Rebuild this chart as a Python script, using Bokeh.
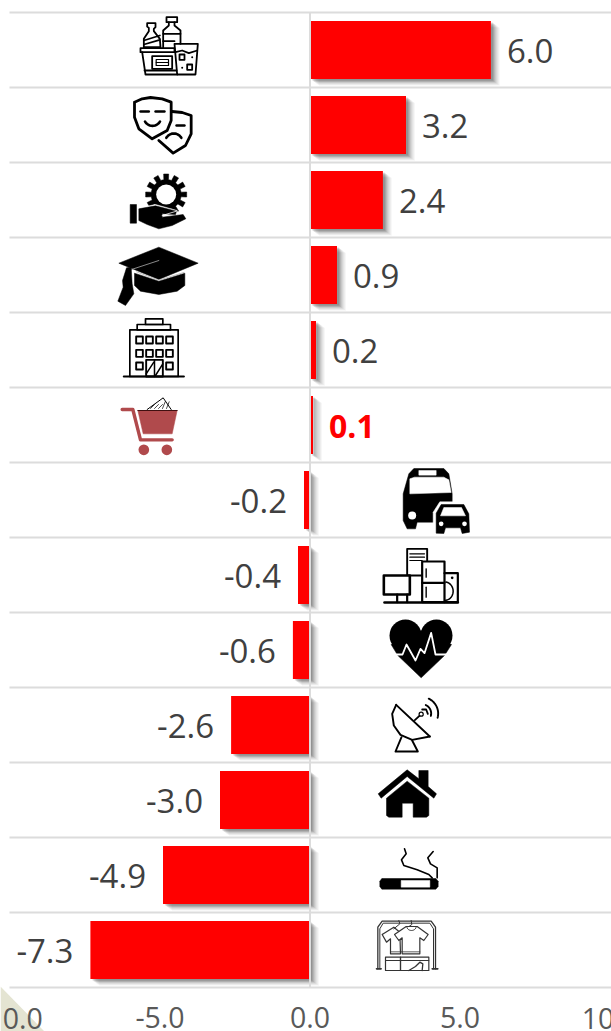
import math
from bokeh.plotting import figure
from bokeh.embed import file_html
from bokeh.resources import INLINE
from bokeh.models import Range1d, FixedTicker, NumeralTickFormatter
from bokeh.core.properties import value

# ---- data ----
categories = ["Food and beverages", "Recreation and culture", "Services", "Education", "Hotels",
              "Miscellaneous goods", "Transport", "Household appliances", "Health",
              "Communication", "Housing", "Tobacco", "Clothing"]
values = [6.03, 3.2, 2.43, 0.9, 0.2, 0.1, -0.2, -0.4, -0.57, -2.63, -3.0, -4.9, -7.32]
labels = ["6.0", "3.2", "2.4", "0.9", "0.2", "0.1", "-0.2", "-0.4", "-0.6", "-2.6", "-3.0", "-4.9", "-7.3"]
x_ticks = [-5, 0, 5]
edge_ticks = [-10, 10]

# ---- layout constants (pixels) ----
W, H = 611, 1031
L, R, T, B = 9, 611, 12, 987
PXX = 30.0
PXY = 75.0
X0 = 309.5


def DX(px):
    return (px - X0) / PXX


def DY(py):
    return (py - T) / PXY


p = figure(width=W, height=H, output_backend="svg", toolbar_location=None,
           x_range=Range1d(DX(0), DX(W)), y_range=Range1d(DY(H), DY(0)),
           min_border_left=0, min_border_right=0, min_border_top=0, min_border_bottom=0,
           outline_line_color=None, background_fill_color="white", border_fill_color="white")
p.yaxis.visible = False
p.grid.visible = False
ax = p.xaxis[0]
ax.fixed_location = 13
ax.ticker = FixedTicker(ticks=x_ticks)
ax.formatter = NumeralTickFormatter(format="0.0")
ax.axis_line_color = None
ax.major_tick_line_color = None
ax.minor_tick_line_color = None
ax.major_label_text_font = "Open Sans"
ax.major_label_text_font_size = "28.5px"
ax.major_label_text_color = "#595959"
ax.major_label_standoff = 13

# decorative corner
p.patch([DX(0), DX(44), DX(0)], [DY(986), DY(1031), DY(1031)], fill_color="#e4e4d2", line_color=None)

# edge tick labels, which the canvas cuts off
p.text(x=edge_ticks, y=[DY(1018)] * len(edge_ticks), text=[f"{t:.1f}" for t in edge_ticks],
       text_align="center", text_baseline="middle", text_font=value("Open Sans"),
       text_font_size="28.5px", text_color="#595959")

# row separators
n_rows = len(values)
p.segment(x0=[DX(L)] * (n_rows + 1), x1=[DX(R)] * (n_rows + 1), y0=list(range(n_rows + 1)),
          y1=list(range(n_rows + 1)), line_color="#dcdcdc", line_width=2)

rows = [i + 0.5 for i in range(n_rows)]
h = 58 / PXY

# bar shadows
for d, a in [(9, .04), (8, .05), (7, .06), (6, .08), (5, .09), (4, .12), (3, .14), (2, .16)]:
    p.hbar(y=[r + d * 0.75 / PXY for r in rows],
           left=[min(v, 0) + d / PXX for v in values],
           right=[max(v, 0) + d / PXX for v in values],
           height=h, color="#3c3c3c", alpha=a, line_color=None)

# bars
p.hbar(y=rows, left=[min(v, 0) for v in values], right=[max(v, 0) for v in values],
       height=h, color="#ff0000", line_color=None)

# zero line
p.segment(x0=[0], x1=[0], y0=[0], y1=[n_rows], line_color="#dcdcdc", line_width=2)

# value labels
for r, v, s in zip(rows, values, labels):
    bold = s == "0.1"
    p.text(x=[v], y=[r], text=[s], text_baseline="middle",
           text_align="left" if v >= 0 else "right",
           x_offset=16 if v >= 0 else -17, y_offset=1,
           text_font=value("Open Sans"),
           text_font_size="32px" if bold else "33px",
           text_font_style="bold" if bold else "normal",
           text_color="#ff0000" if bold else "#404040")


# ---- icon drawing helpers: local coordinates are thirds of a pixel from an origin ----
class Icon:
    def __init__(self, ox, oy):
        self.ox, self.oy = ox, oy

    def _c(self, pts):
        xs = [DX(self.ox + a / 3) for a, b in pts]
        ys = [DY(self.oy + b / 3) for a, b in pts]
        return xs, ys

    def L(self, pts, w=1.8, c="black"):
        xs, ys = self._c(pts)
        p.line(xs, ys, line_width=w, line_color=c, line_join="round", line_cap="round")

    def F(self, pts, c="black"):
        xs, ys = self._c(pts)
        p.patch(xs, ys, fill_color=c, line_color=c, line_width=0.5)

    def O(self, a, b, c_, d, w=1.8, c="black", fill=None):
        pts = [(a, b), (c_, b), (c_, d), (a, d), (a, b)]
        if fill:
            self.F(pts, fill)
        self.L(pts, w, c)

    def C(self, x, y, r, c="black"):
        xs, ys = self._c([(x, y)])
        p.scatter(xs, ys, size=2 * r / 3, marker="circle", fill_color=c, line_color=None)


def arc(cx, cy, rx, ry, a0, a1, n=14):
    return [(cx + rx * math.cos(math.radians(a0 + (a1 - a0) * i / n)),
             cy + ry * math.sin(math.radians(a0 + (a1 - a0) * i / n))) for i in range(n + 1)]


# 1 food and drink
i = Icon(100, 0)
i.L([(140, 68), (165, 68), (165, 80), (160, 85), (160, 92), (178, 115), (180, 140), (130, 140), (130, 115), (145, 92), (145, 82), (140, 78), (140, 68)])
i.L([(130, 120), (178, 105)]); i.L([(130, 132), (178, 118)])
i.O(198, 50, 230, 65)
i.L([(205, 65), (205, 75), (188, 90), (188, 140)]); i.L([(222, 65), (222, 75), (240, 90), (240, 130)])
i.L([(188, 100), (240, 100)]); i.L([(188, 122), (222, 122)])
i.O(120, 143, 222, 155)
i.L([(125, 155), (135, 222), (230, 222)]); i.L([(132, 210), (228, 210)])
i.O(155, 167, 215, 205); i.O(167, 177, 204, 195, w=1.2); i.L([(167, 186), (204, 186)], w=1)
i.L([(222, 130), (292, 130), (285, 222), (230, 222), (222, 130)])
i.L([(225, 155), (245, 150), (265, 158), (290, 150)])
i.O(237, 162, 252, 178); i.O(260, 192, 275, 208)
i.C(275, 170, 3); i.C(245, 202, 3)

# 2 masks
i = Icon(100, 0)
i.L([(102, 305), (125, 295), (150, 291), (185, 295), (212, 305), (212, 360), (200, 390), (155, 415), (115, 385), (102, 350), (102, 305)], w=2.8)
i.L([(120, 333), (145, 333)], w=2.4); i.L([(165, 333), (192, 333)], w=2.4)
i.L(arc(156, 350, 26, 26, 150, 30), w=2.6)
i.L([(215, 333), (245, 336), (272, 345), (272, 400), (255, 435), (218, 458), (175, 420)], w=2.8)
i.L([(228, 375), (252, 375)], w=2.4)
i.L(arc(220, 425, 26, 26, 210, 330), w=2.6)

# 3 gear and hand
i = Icon(100, 0)
teeth = []
for k in range(12):
    a = 30 * k
    teeth += [(197 + 45 * math.cos(math.radians(a + d)), 582 + 45 * math.sin(math.radians(a + d))) for d in (-15, -9)]
    teeth += [(197 + 62 * math.cos(math.radians(a + d)), 582 + 62 * math.sin(math.radians(a + d))) for d in (-7, 7)]
    teeth += [(197 + 45 * math.cos(math.radians(a + d)), 582 + 45 * math.sin(math.radians(a + d))) for d in (9, )]
i.F(teeth)
i.C(197, 582, 30, "white")
i.F([(115, 622), (165, 612), (230, 630), (232, 640), (250, 642), (256, 655), (215, 675), (175, 686), (140, 672), (115, 662)], "white")
i.F([(89, 612), (108, 612), (108, 668), (89, 668)])
i.F([(115, 625), (165, 616), (228, 632), (225, 642), (185, 640), (185, 650), (248, 642), (256, 655), (215, 675), (175, 685), (140, 672), (115, 660)])
i.L([(185, 645), (228, 632)], w=0.8, c="white")

# 4 graduation cap
i = Icon(100, 230)
i.F([(102, 128), (175, 152), (253, 128), (253, 165), (230, 182), (175, 192), (120, 182), (102, 165)])
i.F([(55, 98), (175, 50), (293, 98), (175, 147)])
i.L([(108, 124), (175, 149), (250, 126)], w=0.9, c="#bbbbbb")
i.L([(90, 118), (175, 90)], w=0.9, c="#999999")
i.F([(78, 112), (92, 110), (95, 160), (100, 190), (75, 225), (52, 212), (68, 170), (66, 150)])

# 5 building
i = Icon(100, 230)
i.O(135, 265, 187, 282, w=1.7); i.O(110, 282, 210, 298, w=1.7); i.O(88, 298, 233, 438, w=1.7)
i.L([(70, 438), (250, 438)], w=2.2)
for y in (318, 358):
    for x in (107, 137, 167, 197):
        i.O(x, y, x + 20, y + 21, w=1.9)
for x in (107, 197):
    i.O(x, 396, x + 20, 417, w=1.9)
i.O(137, 388, 187, 438, w=1.9)
i.L([(162, 388), (162, 438)], w=1.5)
i.L([(137, 430), (160, 395)], w=1.5); i.L([(165, 435), (187, 400)], w=1.5)

# 6 shopping cart
i = Icon(100, 230)
CART = "#b04a4c"
i.F([(140, 537), (188, 502), (212, 537)], "white")
i.L([(140, 537), (188, 502), (212, 537)], w=1)
for t in (150, 162, 174, 186, 198):
    i.L([(t, 534), (t + 8 if t > 174 else t + 12, 514 if t > 174 else 522)], w=0.7)
i.F([(112, 540), (230, 540), (215, 610), (128, 610)], CART)
i.L([(112, 540), (230, 540)], w=1, c="#401010")
i.L([(65, 537), (97, 537), (120, 628), (215, 628)], w=3.4, c=CART)
i.C(130, 658, 16, CART); i.C(199, 658, 16, CART)

# 7 bus and car
i = Icon(280, 460)
i.F([(368, 100), (385, 40), (400, 24), (490, 24), (505, 40), (515, 100), (515, 130), (480, 130), (462, 165), (462, 185), (410, 185), (405, 205), (380, 205), (368, 180)])
i.F([(388, 55), (402, 50), (490, 50), (505, 58), (512, 96), (388, 100)], "white")
i.F([(415, 30), (467, 30), (467, 44), (415, 44)], "white")
i.C(395, 165, 12, "white")
i.F([(458, 155), (478, 124), (555, 124), (575, 160), (575, 225), (458, 225)], "white")
i.F([(467, 158), (482, 132), (550, 132), (565, 160), (567, 215), (545, 219), (540, 202), (495, 202), (490, 219), (467, 218)])
i.F([(480, 166), (490, 141), (543, 141), (555, 166)], "white")
i.C(482, 190, 7, "white"); i.C(552, 190, 7, "white")

# 8 appliances
i = Icon(280, 460)
i.O(380, 265, 440, 345, w=1.9)
i.L([(388, 280), (432, 280)], w=1.2); i.L([(388, 290), (432, 290)], w=1.2); i.L([(388, 300), (425, 300)], w=1.2)
i.O(310, 345, 388, 402, w=2.6, fill="white")
i.L([(350, 402), (350, 425)], w=2.2); i.L([(380, 402), (380, 425)], w=2.2)
i.O(425, 303, 492, 425, w=2.2, fill="white")
i.L([(425, 367), (492, 367)], w=2.2)
i.L([(437, 325), (437, 350)], w=1.4); i.L([(437, 380), (437, 410)], w=1.4)
i.L([(492, 338), (532, 338), (532, 425), (492, 425)], w=2.2)
i.L(arc(492, 392, 26, 28, -80, 85), w=1.5)
i.C(515, 352, 4)
i.L([(312, 426), (532, 426)], w=2.6)

# 9 heart
i = Icon(280, 460)
i.C(375, 525, 48); i.C(468, 525, 48)
i.F([(332, 552), (352, 585), (422, 652), (492, 585), (513, 552), (422, 510)])
i.L([(348, 582), (366, 582), (378, 552), (405, 600), (420, 565), (432, 578), (452, 517), (465, 582), (505, 582)], w=1.8, c="white")

# 10 satellite dish
i = Icon(375, 685)
i.L([(62, 58), (163, 153)], w=1.9)
i.L([(62, 58), (50, 85), (55, 120), (75, 148), (110, 163), (163, 153)], w=1.9)
i.L([(118, 104), (135, 88)], w=1.8)
i.C(137, 86, 8); i.C(137, 86, 4, "white")
i.L([(140, 72), (152, 72), (157, 85)], w=1.8)
i.L(arc(139, 84, 28, 28, -65, 15), w=1.9)
i.L(arc(139, 84, 49, 49, -65, 15), w=1.9)
i.L([(78, 155), (60, 198), (127, 198), (110, 165)], w=1.9)

# 11 house
i = Icon(340, 750)
i.F([(113, 130), (200, 58), (235, 85), (235, 60), (263, 60), (263, 108), (288, 130), (280, 143), (200, 78), (122, 143)])
i.F([(138, 143), (200, 92), (265, 143), (265, 195), (258, 200), (218, 200), (218, 158), (185, 158), (185, 200), (145, 200), (138, 195)])

# 12 cigarette
i = Icon(340, 750)
i.F([(124, 384), (286, 384), (293, 392), (293, 408), (286, 416), (124, 416), (118, 408), (118, 392)])
i.F([(182, 390), (268, 390), (268, 410), (182, 410)], "white")
i.L([(192, 295), (197, 310), (183, 328), (190, 345), (230, 358), (265, 372), (275, 382)], w=1.6)
i.L([(278, 303), (262, 322), (270, 340), (290, 352), (290, 382)], w=1.6)

# 13 clothes rack
i = Icon(340, 750)
G = "#333333"
i.L([(112, 655), (112, 530), (125, 512), (272, 512), (285, 530), (285, 655)], w=1.3, c=G)
i.L([(118, 655), (118, 535), (128, 518), (268, 518), (279, 535), (279, 655)], w=1, c=G)
i.L([(175, 510), (178, 520), (160, 535)], w=1, c=G)
i.L([(212, 510), (214, 522), (195, 535)], w=1, c=G)
i.L([(125, 552), (160, 530), (178, 545), (180, 610), (150, 610), (150, 565), (138, 575), (125, 552)], w=1.2, c=G)
i.F([(162, 552), (197, 528), (230, 528), (263, 552), (250, 570), (238, 562), (238, 610), (185, 610), (185, 562), (175, 570)], "white")
i.L([(162, 552), (197, 528), (230, 528), (263, 552), (250, 570), (238, 562), (238, 610), (185, 610), (185, 562), (175, 570), (162, 552)], w=1.2, c=G)
i.L(arc(213, 528, 14, 12, 0, 180), w=1, c=G)
i.L([(150, 604), (238, 604)], w=0.8, c=G)
i.O(135, 620, 180, 660, w=1.2, c=G); i.O(180, 620, 265, 660, w=1.2, c=G)
i.L([(135, 630), (265, 630)], w=1, c=G)
i.L([(205, 660), (225, 648), (238, 635), (247, 640), (245, 660)], w=1.3, c=G)
i.L([(108, 655), (122, 655)], w=1.6, c=G); i.L([(275, 655), (292, 655)], w=1.6, c=G)

open("out.html", "w").write(file_html(p, INLINE))
